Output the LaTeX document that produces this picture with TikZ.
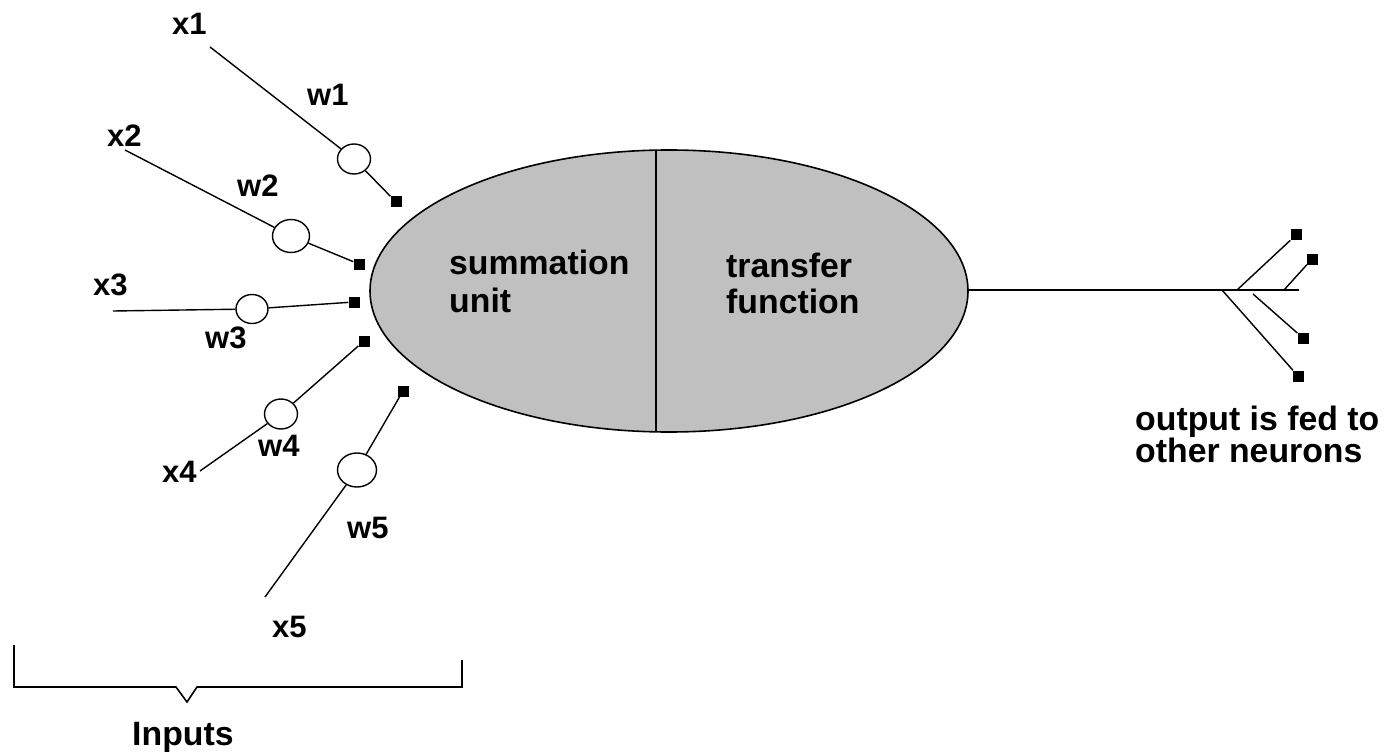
\documentclass[tikz,border=0pt]{standalone}
\usepackage{fontspec}
\setmainfont{Liberation Sans}
\usetikzlibrary{shapes.geometric}
\definecolor{silverfill}{HTML}{C0C0C0}
\tikzset{
  wire/.style={draw=black, line width=1.4pt},
  wcirc/.style={ellipse, draw=black, line width=1.4pt, fill=white, inner sep=0pt},
  term/.style={rectangle, fill=black, minimum size=11pt, inner sep=0pt},
  lab/.style={anchor=base west, inner sep=0pt, font=\fontsize{31}{36}\selectfont\bfseries},
  biglab/.style={anchor=base west, inner sep=0pt, font=\fontsize{33.8}{38}\selectfont\bfseries},
}
\begin{document}
\begin{tikzpicture}[x=1pt,y=-1pt]
\useasboundingbox (0,0) rectangle (1384,754);
% neuron body
\node[ellipse, draw=black, line width=1.6pt, fill=silverfill, minimum width=598pt, minimum height=282pt, inner sep=0pt] (neuron) at (669,291) {};
\coordinate (dtop) at (656,151);
\coordinate (dbot) at (656,431);
\draw[line width=1.8pt] (dtop) -- (dbot);
\node[biglab] (sum1) at (449,274) {summation};
\node[biglab] (sum2) at (449,312) {unit};
\node[biglab] (tr1) at (726,277) {transfer};
\node[biglab] (tr2) at (726,313) {function};
% inputs
\coordinate (i1) at (210,47);
\coordinate (i2) at (125,150);
\coordinate (i3) at (113,311);
\coordinate (i4) at (200,471);
\coordinate (i5) at (265,597);
\node[wcirc, minimum width=33pt, minimum height=30pt] (c1) at (354,159) {};
\node[wcirc, minimum width=37pt, minimum height=33pt] (c2) at (291,236) {};
\node[wcirc, minimum width=32pt, minimum height=29pt] (c3) at (252,309) {};
\node[wcirc, minimum width=33pt, minimum height=30pt] (c4) at (281,414) {};
\node[wcirc, minimum width=39pt, minimum height=34pt] (c5) at (357,470) {};
\node[term] (s1) at (396,202) {};
\node[term] (s2) at (359,264) {};
\node[term] (s3) at (354,302) {};
\node[term] (s4) at (364,341) {};
\node[term] (s5) at (403,391) {};
\draw[wire] (i1) -- (c1) -- (s1);
\draw[wire] (i2) -- (c2) -- (s2);
\draw[wire] (i3) -- (c3) -- (s3);
\draw[wire] (i4) -- (c4) -- (s4);
\draw[wire] (i5) -- (c5) -- (s5);
% labels
\node[lab] (x1) at (172,35) {x1};
\node[lab] (w1) at (307,106) {w1};
\node[lab] (x2) at (107,147) {x2};
\node[lab] (w2) at (237,197) {w2};
\node[lab] (x3) at (93,295) {x3};
\node[lab] (w3) at (205,348) {w3};
\node[lab] (x4) at (162,482) {x4};
\node[lab] (w4) at (258,456) {w4};
\node[lab] (w5) at (347,538) {w5};
\node[lab] (x5) at (272,637) {x5};
% bracket
\coordinate (b1) at (14,645);
\coordinate (b2) at (14,687);
\coordinate (b3) at (176,687);
\coordinate (b4) at (187,702);
\coordinate (b5) at (197,687);
\coordinate (b6) at (462,687);
\coordinate (b7) at (462,660);
\draw[line width=1.6pt] (b1) -- (b2) -- (b3) -- (b4) -- (b5) -- (b6) -- (b7);
\node[biglab] (inputs) at (132,745) {Inputs};
% output
\coordinate (oend) at (1299,290);
\draw[line width=1.8pt] (neuron.east |- oend) -- (oend);
\coordinate (f1) at (1237,290);
\coordinate (f2) at (1284,290);
\coordinate (f3) at (1253,294);
\coordinate (f4) at (1222,290);
\node[term] (o1) at (1296,235) {};
\node[term] (o2) at (1312,259) {};
\node[term] (o3) at (1303,338) {};
\node[term] (o4) at (1298,376) {};
\draw[wire] (f1) -- (o1);
\draw[wire] (f2) -- (o2);
\draw[wire] (f3) -- (o3);
\draw[wire] (f4) -- (o4);
\node[biglab] (out1) at (1135,430) {output is fed to};
\node[biglab] (out2) at (1135,462) {other neurons};
\end{tikzpicture}
\end{document}
